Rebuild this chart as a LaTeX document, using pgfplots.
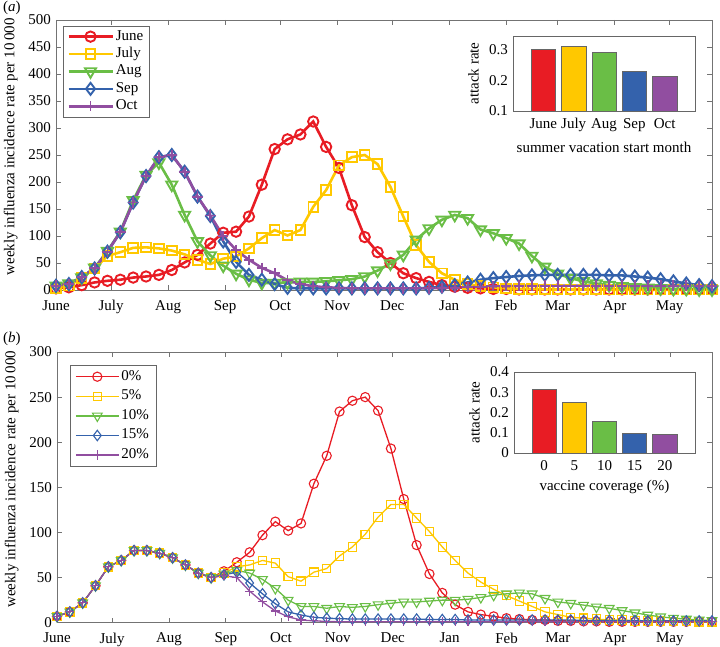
\documentclass[border=0pt]{standalone}
\usepackage{fontspec}
\setmainfont{Liberation Serif}
\usepackage{pgfplots}
\usepackage{pgfplotstable}
\pgfplotsset{compat=1.18}
\definecolor{cR}{RGB}{232,28,36}
\definecolor{cY}{RGB}{255,200,0}
\definecolor{cG}{RGB}{106,190,70}
\definecolor{cB}{RGB}{52,98,172}
\definecolor{cP}{RGB}{145,78,160}

\pgfplotstableread{
x june july aug sep oct
0 3 3 8 8 8
7 5 8 12 11 11
14 9 22 23 24 24
21 14 40 41 40 40
28 17 63 72 71 71
35 19 70 108 107 107
42 23 78 166 162 162
49 25 79 213 211 211
56 28 77 236 246 246
63 37 73 195 250 250
70 51 66 139 219 219
77 65 56 90 173 173
84 86 48 64 137 138
91 106 58 45 90 100
98 108 62 30 52 74
105 136 77 19 28 56
112 195 96 13 19 41
119 261 111 13 11 31
126 279 101 14 4 18
133 288 111 15 3 11
140 312 154 15 3 7
147 265 185 16 3 5
154 226 231 18 3 4
161 157 246 20 3 3
168 98 250 25 3 3
175 70 233 36 3 3
182 50 191 49 3 3
189 31 136 65 3 3
196 22 83 93 3 3
203 15 52 114 4 3
210 9 31 130 6 4
217 6 19 139 9 4
224 4 11 133 14 5
231 3 7 112 19 6
238 2 5 105 22 7
245 2 3 96 24 7
252 1 2 86 26 8
259 1 2 63 27 8
266 1 1 43 28 8
273 1 1 30 28 8
280 1 1 22 28 8
287 1 1 16 28 8
294 1 1 12 28 8
301 1 0.5 9 27 8
308 1 0.5 7 27 8
315 1 0.5 5 25 8
322 1 0.5 4 23 8
329 1 0.5 3 20 8
336 1 0.5 2 16 8
343 1 0.5 2 12 8
350 1 0.5 1 9 7
357 1 0.5 1 7 7
}\topdata

\pgfplotstableread{
x p0 p5 p10 p15 p20
0 7 7 7 7 7
7 12 12 12 12 12
14 22 22 22 22 22
21 41 41 41 41 41
28 62 62 62 62 62
35 69 69 69 69 69
42 80 80 80 80 80
49 80 80 80 80 80
56 77 77 77 77 77
63 72 72 72 72 72
70 64 64 64 64 64
77 55 55 55 55 55
84 50 50 50 50 50
91 57 55 54 53 52
98 67 62 58 56 50
105 78 64 55 44 35
112 97 69 48 32 23
119 112 66 38 21 13
126 102 51 25 12 6.5
133 110 46 18 8.5 3
140 154 56 18 6 2
147 185 60 16 5 1.5
154 234 74 18 4.5 1
161 246 84 17 4 1
168 250 98 18 4 1
175 235 117 20 4 1
182 193 131 21.5 4 1
189 137 131 23 4 1
196 86 116 23 4 1
203 54 101 24 3.5 1
210 33 84 25 3.5 1
217 20 69 25 3.5 1
224 12 55 26 3 1
231 9 45 28 3 1
238 7 37 30.5 3 1
245 5 30 32 3 1
252 4 24 33 3 1
259 3 18 32 3 1
266 3 12 27 3 1
273 2 9 23 3 1
280 2 6 21.5 3 1
287 1.5 5 19.5 2.5 1
294 1.5 4 17.5 2.5 1
301 1 3 16 2.5 1
308 1 3 13.5 2.5 1
315 1 2 11 2.5 1
322 1 2 8.5 2 1
329 1 2 6.5 2 1
336 1 1.5 5 2 1
343 1 1.5 4 2 1
350 1 1 3 2 1
357 1 1 2.5 2 1
}\botdata

\pgfplotsset{
  every axis/.append style={font=\fontsize{15}{18}\selectfont},
  mainax/.style={
    scale only axis, anchor=south west,
    xmin=0, xmax=357,
    xtick={0,30,61,92,122,153,183,214,245,273,304,334},
    xticklabels={June,July,Aug,Sep,Oct,Nov,Dec,Jan,Feb,Mar,Apr,May},
    xticklabel style={yshift=-5pt},
    tick align=inside, tick pos=both, major tick length=5pt,
    axis line style={black!55},
    every tick/.append style={black!55, line width=0.6pt},
    clip=false,
    /pgf/number format/assume math mode=true,
    ylabel={weekly influenza incidence rate per 10\,000},
    ylabel style={at={(axis description cs:-0.069,0.53)}, anchor=center},
    legend cell align=left,
  },
  insetax/.style={
    scale only axis, anchor=south west,
    xmin=0, xmax=6, xtick={1,2,3,4,5},
    major tick length=0pt,
    axis line style={black!60},
    axis background/.style={fill=white},
    /pgf/number format/assume math mode=true,
    ylabel={attack rate},
  },
  inbar/.style={ybar, bar width=0.8, bar shift=0pt, draw=black!60, line width=0.6pt, fill=#1},
}

\begin{document}
\fontsize{15}{18}\selectfont
\begin{tikzpicture}
\path[use as bounding box] (0pt,0pt) rectangle (720pt,647pt);

% ---------- panel (a)
\begin{axis}[mainax, at={(56pt,357pt)}, width=656pt, height=270pt,
  ymin=0, ymax=500, ytick={0,50,...,500},
  legend style={at={(axis description cs:0.0107,0.978)}, anchor=north west,
    draw=black!60, fill=white, inner xsep=4pt, inner ysep=2pt, row sep=0.4pt,
    nodes={inner sep=2pt, text height=10pt, text depth=3pt}},
  legend image code/.code={\draw[mark repeat=2,mark phase=2] plot coordinates {(0pt,0pt) (22pt,0pt) (44pt,0pt)};},
  every axis plot/.append style={line width=2.6pt},
]
\addplot[cR, mark=o, mark size=5.2pt, mark options={line width=1.9pt}] table[x=x,y=june]{\topdata};
\addplot[cY, mark=square, mark size=4.8pt, mark options={line width=1.9pt}] table[x=x,y=july]{\topdata};
\addplot[cG, mark=triangle, mark size=6.4pt, mark options={line width=1.9pt, rotate=180}] table[x=x,y=aug]{\topdata};
\addplot[cB, mark=diamond, mark size=6pt, mark options={line width=1.9pt}] table[x=x,y=sep]{\topdata};
\addplot[cP, mark=+, mark size=5.2pt, mark options={line width=1.9pt}] table[x=x,y=oct]{\topdata};
\legend{June,July,Aug,Sep,Oct}
\end{axis}

\begin{axis}[insetax, at={(513pt,536pt)}, width=182pt, height=75pt,
  ymin=0.1, ymax=0.345, ytick={0.1,0.2,0.3},
  xticklabels={June,July,Aug,Sep,Oct},
  xticklabel style={yshift=-2pt},
  xlabel={summer vacation start month}]
\addplot[inbar=cR] coordinates {(1,0.301)};
\addplot[inbar=cY] coordinates {(2,0.312)};
\addplot[inbar=cG] coordinates {(3,0.293)};
\addplot[inbar=cB] coordinates {(4,0.231)};
\addplot[inbar=cP] coordinates {(5,0.213)};
\end{axis}

% ---------- panel (b)
\begin{axis}[mainax, at={(57pt,24.3pt)}, width=655pt, height=270.7pt,
  ymin=0, ymax=300, ytick={0,50,...,300},
  legend style={at={(axis description cs:0.0198,0.952)}, anchor=north west,
    draw=black!60, fill=white, inner xsep=5pt, inner ysep=3pt, row sep=2.6pt,
    nodes={inner sep=2pt, text height=10pt, text depth=3pt}},
  legend image code/.code={\draw[mark repeat=2,mark phase=2] plot coordinates {(0pt,0pt) (21.5pt,0pt) (43pt,0pt)};},
  every axis plot/.append style={line width=1.3pt},
]
\addplot[cR, mark=o, mark size=4.6pt, mark options={line width=1.1pt}] table[x=x,y=p0]{\botdata};
\addplot[cY, mark=square, mark size=4.2pt, mark options={line width=1.1pt}] table[x=x,y=p5]{\botdata};
\addplot[cG, mark=triangle, mark size=5.6pt, mark options={line width=1.1pt, rotate=180}] table[x=x,y=p10]{\botdata};
\addplot[cB, mark=diamond, mark size=5.2pt, mark options={line width=1.1pt}] table[x=x,y=p15]{\botdata};
\addplot[cP, mark=+, mark size=4.6pt, mark options={line width=1.1pt}] table[x=x,y=p20]{\botdata};
\legend{0\%,5\%,10\%,15\%,20\%}
\end{axis}

\begin{axis}[insetax, at={(514pt,194pt)}, width=181pt, height=81pt,
  ymin=0, ymax=0.4, ytick={0,0.1,0.2,0.3,0.4},
  yticklabels={0,0.1,0.2,0.3,0.4},
  xticklabels={0,5,10,15,20},
  xticklabel style={yshift=-2pt},
  xlabel={vaccine coverage (\%)}]
\addplot[inbar=cR] coordinates {(1,0.316)};
\addplot[inbar=cY] coordinates {(2,0.250)};
\addplot[inbar=cG] coordinates {(3,0.158)};
\addplot[inbar=cB] coordinates {(4,0.095)};
\addplot[inbar=cP] coordinates {(5,0.090)};
\end{axis}

\node[anchor=base west, inner sep=0] at (3pt,635pt) {(\textit{a})};
\node[anchor=base west, inner sep=0] at (3pt,304pt) {(\textit{b})};
\end{tikzpicture}
\end{document}
